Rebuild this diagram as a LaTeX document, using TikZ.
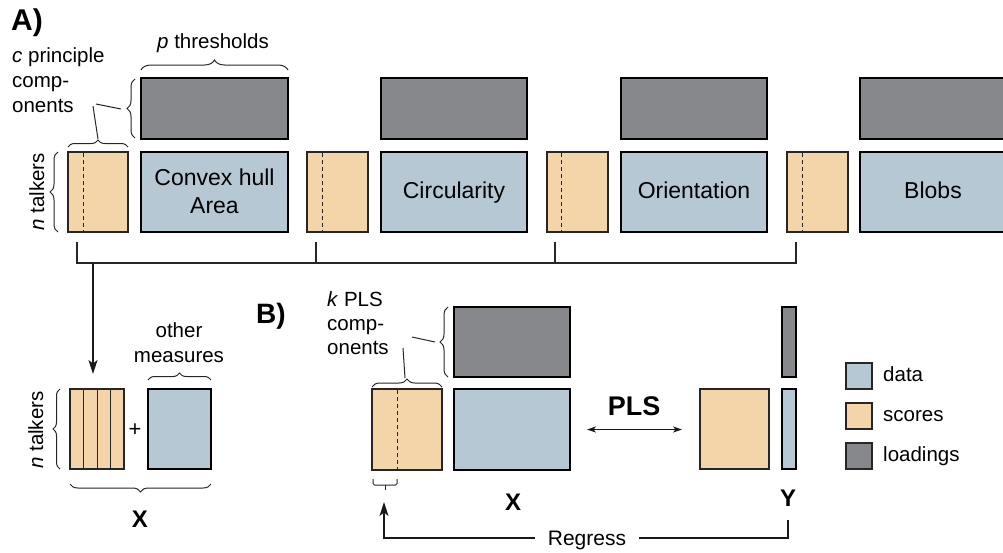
\documentclass[tikz,border=0pt]{standalone}
\usepackage{fontspec}
\setmainfont{Liberation Sans}
\usetikzlibrary{decorations.pathreplacing,arrows.meta,calc}
\definecolor{orng}{HTML}{F4D5AA}
\definecolor{blu}{HTML}{B5C8D4}
\definecolor{gry}{HTML}{86888C}
\begin{document}
\begin{tikzpicture}[x=1pt,y=-1pt,
  sbox/.style 2 args={draw=black!85,line width=1.1pt,fill=orng,rectangle,inner sep=0pt,outer sep=0pt,minimum width=#1,minimum height=#2},
  dbox/.style 2 args={draw=black,line width=2pt,fill=blu,rectangle,inner sep=0pt,outer sep=0pt,minimum width=#1,minimum height=#2},
  lbox/.style 2 args={draw=black,line width=1.7pt,fill=gry,rectangle,inner sep=0pt,outer sep=0pt,minimum width=#1,minimum height=#2},
  legbox/.style={draw=black!85,line width=1.3pt,rectangle,inner sep=0pt,minimum width=26pt,minimum height=26pt},
  brc/.style={decorate,decoration={brace,amplitude=#1},line width=1pt,black!85},
  conn/.style={line width=1.2pt,black!85},
  dsh/.style={line width=1pt,black!85,dash pattern=on 4pt off 3pt},
  arr/.style={line width=1.2pt,black!90,-{Stealth[length=14pt,width=9pt,inset=3.5pt]}},
  dblarr/.style={line width=1.1pt,black!90,{Stealth[length=9pt,width=6pt,inset=2.5pt]}-{Stealth[length=9pt,width=6pt,inset=2.5pt]}},
  boxtext/.style={font=\fontsize{23}{28}\selectfont,anchor=base,inner sep=0pt},
  note/.style={font=\fontsize{20.5}{25}\selectfont,inner sep=0pt},
  bold/.style={font=\bfseries\fontsize{#1}{#1}\selectfont,inner sep=0pt,anchor=base}
]
\useasboundingbox (0,0) rectangle (1003,552);
\clip (0,0) rectangle (1003,552);

% ---------------- Part A ----------------
\node[bold=30,anchor=base west] (lA) at (11,30) {A)};

\node[lbox={147pt}{61pt}] (g1) at (214.5,108.5) {};
\node[lbox={146pt}{61pt}] (g2) at (454,108.5) {};
\node[lbox={146pt}{61pt}] (g3) at (694,108.5) {};
\node[lbox={146pt}{61pt}] (g4) at (933,108.5) {};

\node[dbox={147pt}{80pt}] (b1) at (214.5,192) {};
\node[dbox={146pt}{80pt}] (b2) at (454,192) {};
\node[dbox={146pt}{80pt}] (b3) at (694,192) {};
\node[dbox={146pt}{80pt}] (b4) at (933,192) {};

\node[sbox={60pt}{80pt}] (o1) at (98,192) {};
\node[sbox={61pt}{80pt}] (o2) at (337.5,192) {};
\node[sbox={61pt}{80pt}] (o3) at (577.5,192) {};
\node[sbox={61pt}{80pt}] (o4) at (817.5,192) {};
\foreach \n/\x in {o1/83,o2/322,o3/561.5,o4/802}
  \draw[dsh] (\x,153) -- (\x,231);

\node[boxtext] (t1a) at (214.5,185) {Convex hull};
\node[boxtext] (t1b) at (214.5,213) {Area};
\node[boxtext] (t2) at (454,198) {Circularity};
\node[boxtext] (t3) at (694,198) {Orientation};
\node[boxtext] (t4) at (933,198) {Blobs};

% annotations A
\node[note,anchor=base] (pth) at (213,48) {\textit{p} thresholds};
\draw[brc=10] (141,70) -- (288,70);
\node[note,anchor=base west] (cp1) at (12,62) {\textit{c} principle};
\node[note,anchor=base west] (cp2) at (12,87) {comp-};
\node[note,anchor=base west] (cp3) at (12,112) {onents};
\draw[brc=8] (135,138) -- (135,79);
\draw[brc=7] (68,147) -- (128,147);
\draw[conn,line width=1pt] (98,139) -- (93,106);
\draw[conn,line width=1pt] (96,104) -- (121,109);
\draw[brc=8] (58,232) -- (58,152);
\node[note,rotate=90,anchor=base] (nt1) at (44,192) {\textit{n} talkers};

% collecting bracket
\coordinate (k1) at (77,242);
\coordinate (k2) at (316,242);
\coordinate (k3) at (555,242);
\coordinate (k4) at (796,242);
\coordinate (kb) at (93,263);
\draw[conn] (k1) |- (k4 |- kb) -- (k4);
\draw[conn] (k2) -- (k2 |- kb);
\draw[conn] (k3) -- (k3 |- kb);

% ---------------- lower left ----------------
\node[sbox={54pt}{80pt}] (stk) at (97,429) {};
\foreach \x in {83.5,97,110.5}
  \draw[line width=1pt,black!85] (\x,389) -- (\x,469);
\node[dbox={63pt}{80pt},line width=1.6pt] (bo) at (179.5,429) {};
\node[font=\fontsize{22}{25}\selectfont,inner sep=0pt] (plus) at (135,430) {+};
\draw[arr] (kb) -- ($(kb |- stk.north)+(0,-15)$);
\node[note,anchor=base] (om1) at (179,337) {other};
\node[note,anchor=base] (om2) at (179,362) {measures};
\draw[brc=7] (148,380) -- (211,380);
\draw[brc=7] (60,469) -- (60,389);
\node[note,rotate=90,anchor=base] (nt2) at (43,430) {\textit{n} talkers};
\draw[brc=8] (211,484) -- (70,484);
\node[bold=24] (X1) at (140,527) {X};

% ---------------- Part B ----------------
\node[bold=28,anchor=base west] (lB) at (256,323) {B)};
\node[lbox={116pt}{70pt}] (gx) at (512,342) {};
\node[sbox={70pt}{81pt}] (ox) at (407,429.5) {};
\draw[dsh] (397,390) -- (397,469);
\node[dbox={116pt}{81pt}] (bx) at (512,429.5) {};
\node[note,anchor=base west] (kp1) at (327,306) {\textit{k} PLS};
\node[note,anchor=base west] (kp2) at (327,330) {comp-};
\node[note,anchor=base west] (kp3) at (327,354) {onents};
\draw[brc=8] (372,387) -- (442,387);
\draw[brc=8] (448,377) -- (448,307);
\draw[conn,line width=1pt] (405,378) -- (403,348);
\draw[conn,line width=1pt] (412,337) -- (435,342);
\draw[line width=1pt,black!85,rounded corners=1.5pt] (373,479) |- (397,485) -- (397,479);
\draw[line width=1pt,black!85] (385,485) -- (385,490);
\node[bold=24] (X2) at (513,510) {X};

\node[sbox={69pt}{80pt}] (oy) at (734.5,429) {};
\node[dbox={14pt}{80pt},line width=1.6pt] (by) at (789,429) {};
\node[lbox={14pt}{70pt},line width=1.5pt] (gy) at (789,342) {};
\node[bold=24] (Y) at (788,506) {Y};

\node[bold=27] (pls) at (634,415) {PLS};
\draw[dblarr,shorten <=17pt,shorten >=18pt] (bx.east) -- (oy.west |- bx.east);

% regress
\coordinate (r0) at (788,520);
\coordinate (r1) at (384,538);
\coordinate (r2) at (384,502);
\draw[arr] (r0) |- (r1) -- (r2);
\node[font=\fontsize{21}{25}\selectfont,fill=white,inner xsep=13pt,inner ysep=2pt,anchor=base] (reg) at (587,545) {Regress};

% legend
\node[legbox,fill=blu] (ld) at (859,376) {};
\node[legbox,fill=orng] (ls) at (859,416) {};
\node[legbox,fill=gry] (ll) at (859,456) {};
\node[note,anchor=base west] (ldt) at (883,381) {data};
\node[note,anchor=base west] (lst) at (883,421) {scores};
\node[note,anchor=base west] (llt) at (883,461) {loadings};
\end{tikzpicture}
\end{document}
